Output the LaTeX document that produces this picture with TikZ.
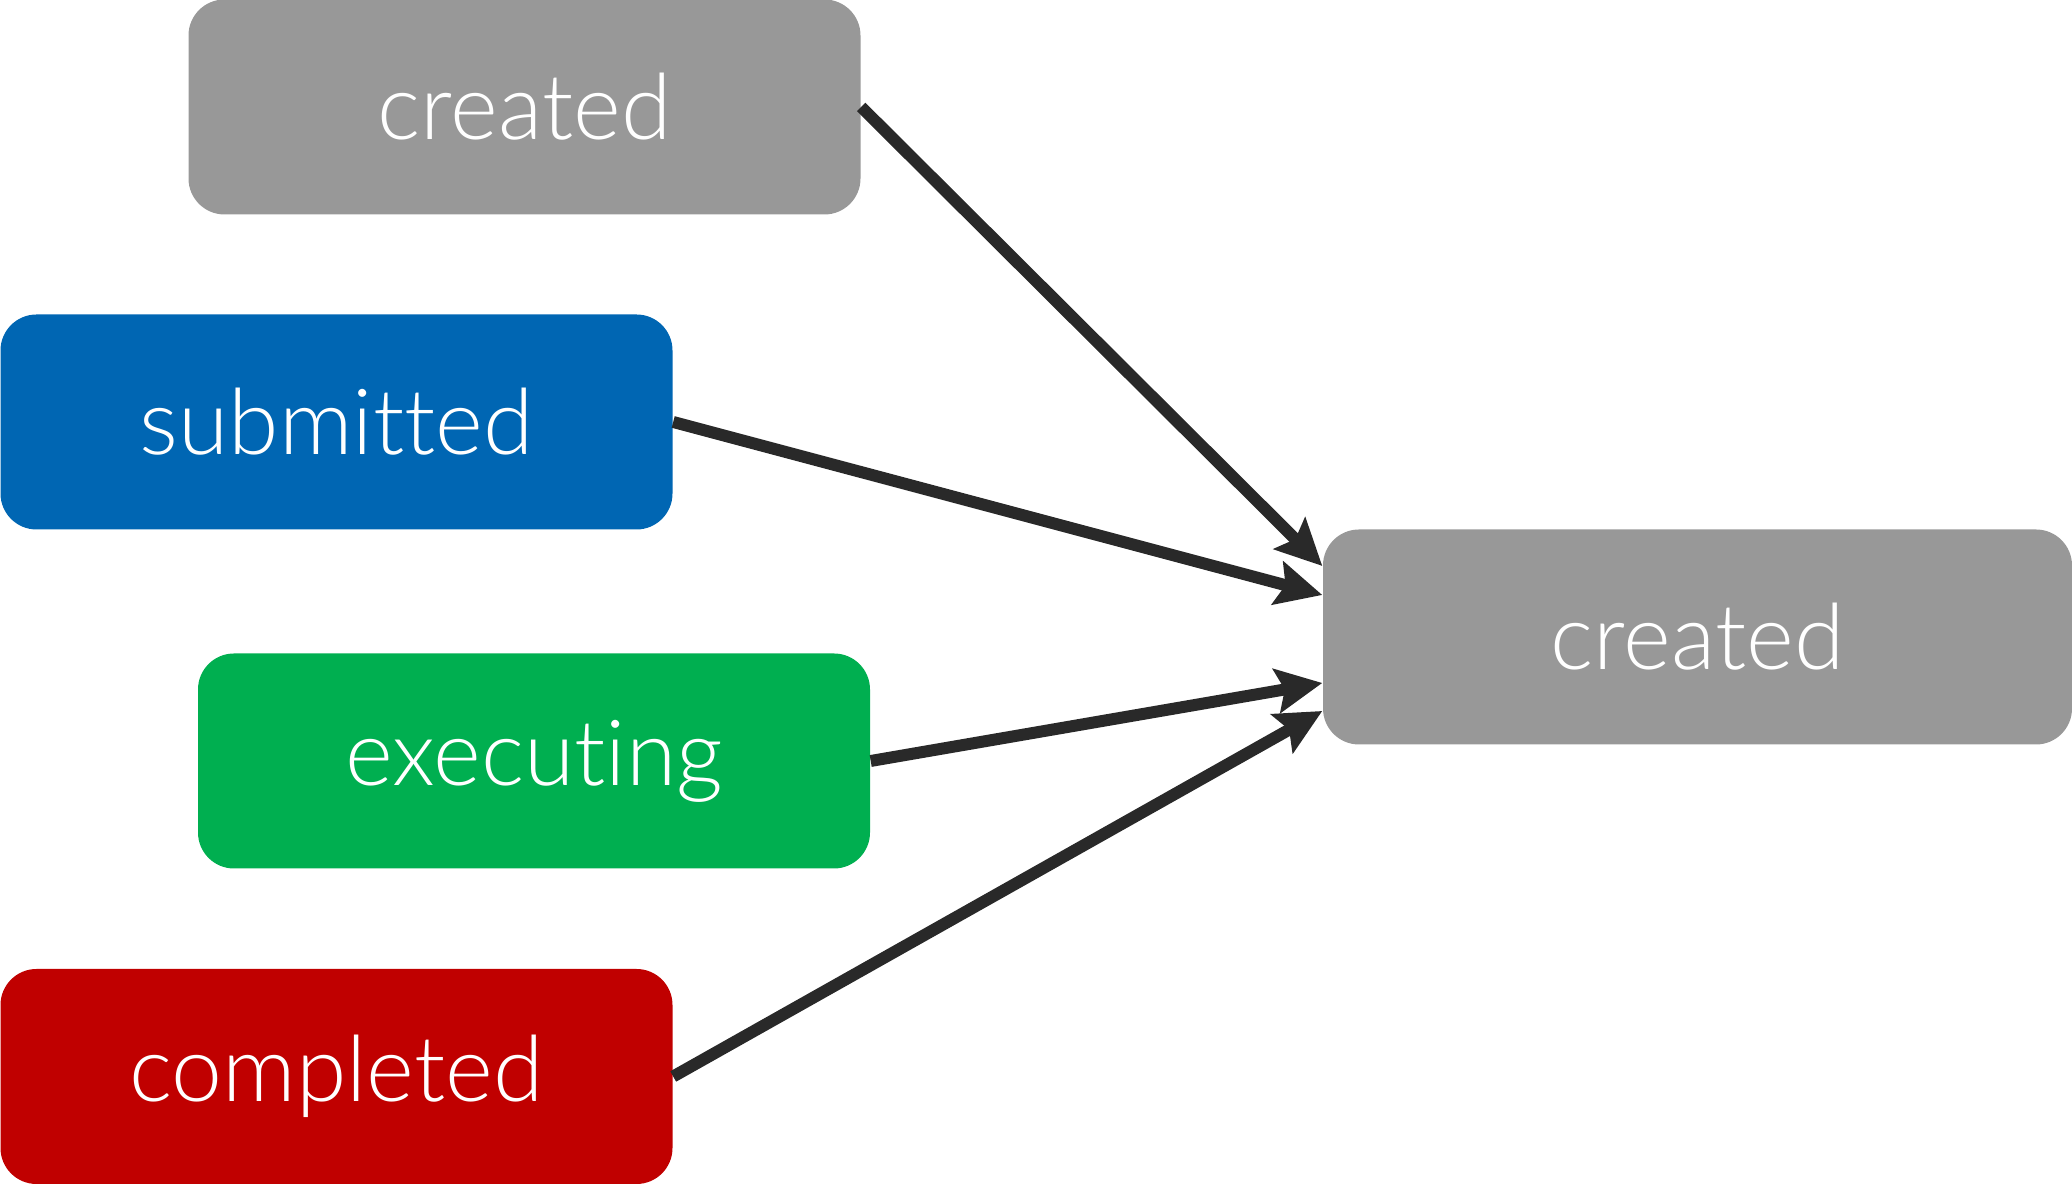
\documentclass[tikz,border=0pt]{standalone}
\usepackage{fontspec}
\setmainfont{Lato Light}[Ligatures=NoCommon]
\usepackage{xcolor}
\usetikzlibrary{shapes,arrows.meta,positioning}

\definecolor{stategray}{HTML}{989898}
\definecolor{stateblue}{HTML}{0066B3}
\definecolor{stategreen}{HTML}{00AF50}
\definecolor{statered}{HTML}{C00000}
\definecolor{arrowgray}{HTML}{292929}

\begin{document}
\begin{tikzpicture}
    % Define styles
    \tikzstyle{state} = [rectangle, rounded corners=0.36cm, text=white, text centered, minimum width=6.72cm, minimum height=2.15cm, inner sep=0pt, font=\fontsize{26}{30}\selectfont]
    \tikzstyle{arrow} = [line width=3.4pt, draw=arrowgray, -{Stealth[length=4.6mm, width=4.4mm, inset=0.8mm]}]

    \useasboundingbox (0,0) rectangle (20.72,11.84);

    % Source states
    \node [state, fill=stategray] (created) at (5.245,10.77) {created};
    \node [state, fill=stateblue] (submitted) at (3.365,7.62) {submitted};
    \node [state, fill=stategreen] (executing) at (5.34,4.23) {executing};
    \node [state, fill=statered] (completed) at (3.365,1.075) {completed};

    % Target state
    \node [state, fill=stategray, minimum width=7.49cm] (target) at (16.975,5.47) {created};

    % Arrows
    \draw [arrow] (created.east) -- ([yshift=0.71cm]target.west);
    \draw [arrow] (submitted.east) -- ([yshift=0.42cm]target.west);
    \draw [arrow] (executing.east) -- ([yshift=-0.46cm]target.west);
    \draw [arrow] (completed.east) -- ([yshift=-0.74cm]target.west);
\end{tikzpicture}
\end{document}
